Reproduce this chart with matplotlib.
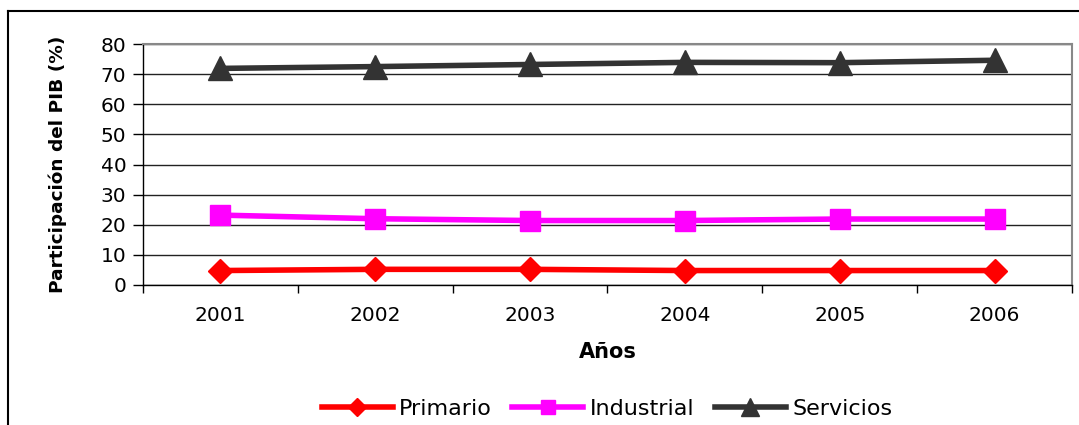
import matplotlib
matplotlib.use("Agg")
import matplotlib.pyplot as plt
from matplotlib.lines import Line2D

years = ["2001", "2002", "2003", "2004", "2005", "2006"]
primario = [4.8, 5.2, 5.2, 4.8, 4.8, 4.8]
industrial = [23.2, 22.0, 21.4, 21.4, 21.9, 21.9]
servicios = [71.9, 72.5, 73.2, 73.9, 73.8, 74.6]

plt.rcParams['font.family'] = ['DejaVu Sans']

fig = plt.figure(figsize=(10.79, 4.25), dpi=100)
ax = fig.add_axes([143/1079, (425-285)/425, (1072-143)/1079, (285-44)/425])

x = list(range(len(years)))
ax.plot(x, primario, color='#ff0000', lw=4, marker='D', ms=12, label='Primario', zorder=3)
ax.plot(x, industrial, color='#ff00ff', lw=4, marker='s', ms=14, label='Industrial', zorder=3)
ax.plot(x, servicios, color='#333333', lw=4, marker='^', ms=17, label='Servicios', zorder=3)

ax.set_xlim(-0.5, len(years) - 0.5)
ax.set_ylim(0, 80)
ax.set_yticks(range(0, 81, 10))
ax.set_xticks(x)
ax.set_xticklabels(years)
ax.set_xticks([i + 0.5 for i in range(-1, len(years))], minor=True)
ax.tick_params(axis='x', which='major', length=0, pad=15, labelsize=14.5)
ax.tick_params(axis='x', which='minor', length=6, width=1, direction='out', color='black')
ax.tick_params(axis='y', length=7, width=1, direction='out', labelsize=14.5, pad=5)
ax.yaxis.grid(True, color='#222222', lw=1)
ax.set_axisbelow(True)
for s in ['top', 'right']:
    ax.spines[s].set_color('#888888')
    ax.spines[s].set_linewidth(1.5)
for s in ['left', 'bottom']:
    ax.spines[s].set_color('black')
    ax.spines[s].set_linewidth(1)

ax.set_ylabel('Participación del PIB (%)', fontsize=13.3, fontweight='bold', labelpad=24)
ax.set_xlabel('Años', fontsize=15, fontweight='bold', labelpad=12)

fig.legend(loc='center', bbox_to_anchor=(607/1079, 1 - 409/425), ncol=3, frameon=False,
           fontsize=16, handlelength=3.2, columnspacing=0.9, handletextpad=0.3,
           markerscale=0.75)

fig.add_artist(Line2D([8/1079, 8/1079], [0, 1 - 11/425], color='black', lw=1.5, transform=fig.transFigure))
fig.add_artist(Line2D([8/1079, 1.0], [1 - 11/425, 1 - 11/425], color='black', lw=1.5, transform=fig.transFigure))

fig.savefig('out.png', dpi=100)
